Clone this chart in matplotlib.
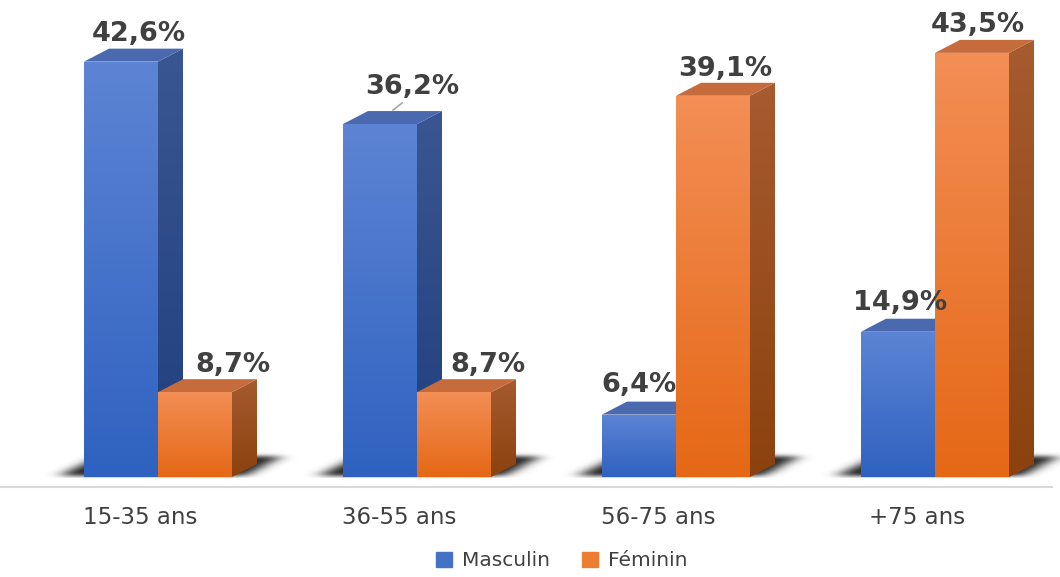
import matplotlib
matplotlib.use("Agg")
import matplotlib.pyplot as plt
from matplotlib.patches import Polygon, Rectangle
from matplotlib.path import Path
import numpy as np

# data
categories = ["15-35 ans", "36-55 ans", "56-75 ans", "+75 ans"]
masculin = [42.6, 36.2, 6.4, 14.9]
feminin = [8.7, 8.7, 39.1, 43.5]
series_names = ["Masculin", "Féminin"]

# pixel -> data scale (group spacing 259 px, 1 % = 9.75 px)
PX_X = 1.0 / 259
PX_Y = 1.0 / 9.75
bar_w = 74 * PX_X
dx = 25 * PX_X
dy = 13 * PX_Y

# label nudges (px), one per bar: masculin then feminin
lab_dx = [[18, 32, 0, 2], [38, 34, 12, 6]]
lab_dy = [[28, 37, 30, 29], [27, 27, 27, 28]]

styles = [
    dict(top="#5d84d4", bot="#2f62c0", side_top="#3a5692", side_bot="#203f7e",
         cap="#4a69ae", legend="#4472c4"),
    dict(top="#f38e55", bot="#e56816", side_top="#a65b30", side_bot="#8c420e",
         cap="#c56b3c", legend="#ed7d31"),
]

fig = plt.figure(figsize=(10.6, 5.77), dpi=100)
ax = fig.add_axes([0, 0, 1, 1])
ax.set_axis_off()


def grad(ax, x0, x1, y0, y1, c_top, c_bot, clip, z):
    ct = np.array(matplotlib.colors.to_rgb(c_top))
    cb = np.array(matplotlib.colors.to_rgb(c_bot))
    t = np.linspace(0, 1, 64)[:, None]
    img = (ct * (1 - t) + cb * t)[:, None, :]
    im = ax.imshow(img, extent=(x0, x1, y0, y1), aspect="auto", origin="upper",
                   zorder=z, interpolation="bilinear")
    im.set_clip_path(clip)


def blur1d(a, sigma, axis):
    r = int(3 * sigma)
    k = np.exp(-0.5 * (np.arange(-r, r + 1) / sigma) ** 2)
    k /= k.sum()
    return np.apply_along_axis(lambda m: np.convolve(m, k, mode="same"), axis, a)


def floor_shadow(ax, xl, xr):
    # soft shadow drawn in pixel units, then mapped to data extent
    w_px = int((xr - xl) / PX_X) + 120
    h_px = 40
    u = np.arange(w_px) - 50.0          # px from bar left
    v = np.arange(h_px)[::-1] - 8.0     # px above baseline
    U, V = np.meshgrid(u, v)
    bw = (xr - xl) / PX_X
    shape = Path([(-26, 0), (bw + 12, 0), (bw + 48, 19), (14, 19)])
    inside = shape.contains_points(np.c_[U.ravel(), V.ravel()]).reshape(U.shape)
    a = inside.astype(float)
    a = blur1d(a, 8, 1)
    a = blur1d(a, 2.0, 0)
    a[V < -1] = 0
    rgba = np.zeros(a.shape + (4,))
    rgba[..., :3] = 0.2
    rgba[..., 3] = np.clip(a * 1.1, 0, 1)
    ax.imshow(rgba, extent=(xl - 50 * PX_X, xl + (w_px - 50) * PX_X,
                            -8 * PX_Y, (h_px - 8) * PX_Y),
              aspect="auto", origin="upper", zorder=1, interpolation="bilinear")


x = np.arange(len(categories))
for i in x:
    floor_shadow(ax, i - bar_w, i + bar_w)

for s, vals in enumerate([masculin, feminin]):
    st = styles[s]
    lefts = x - bar_w + s * bar_w
    for i, (xl, v) in enumerate(zip(lefts, vals)):
        z = 3 + s * 2
        # side face
        side = Polygon([(xl + bar_w, 0), (xl + bar_w + dx, dy),
                        (xl + bar_w + dx, v + dy), (xl + bar_w, v)],
                       closed=True, facecolor="none", edgecolor="none", zorder=z)
        ax.add_patch(side)
        grad(ax, xl + bar_w, xl + bar_w + dx, 0, v + dy, st["side_top"], st["side_bot"], side, z)
        # top face
        cap = Polygon([(xl, v), (xl + bar_w, v), (xl + bar_w + dx, v + dy), (xl + dx, v + dy)],
                      closed=True, facecolor=st["cap"], edgecolor="none", zorder=z)
        ax.add_patch(cap)
        # front face
        b = ax.bar(xl, v, width=bar_w, align="edge", color="none", edgecolor="none",
                   zorder=z + 1)[0]
        grad(ax, xl, xl + bar_w, 0, v, st["top"], st["bot"], b, z + 1)
        # value label
        ax.text(xl + bar_w / 2 + lab_dx[s][i] * PX_X, v + lab_dy[s][i] * PX_Y,
                f"{v:.1f}%".replace(".", ","), ha="center", va="center",
                fontsize=19.5, fontweight="bold", color="#404040", zorder=10)

# leader line for 36,2%
ax.plot([1 - bar_w / 2 + 13 * PX_X, 1 - bar_w / 2 + 22 * PX_X],
        [36.2 + 14 * PX_Y, 36.2 + 21 * PX_Y], color="#a6a6a6", lw=1.2, zorder=9)

# axis line
ax.plot([-0.61, 3.45], [-10 * PX_Y] * 2, color="#d9d9d9", lw=1.5, zorder=2)

for i, c in enumerate(categories):
    ax.text(i - 18 * PX_X, -41 * PX_Y, c, ha="center", va="center",
            fontsize=16.5, color="#404040")

handles = [Rectangle((0, 0), 1, 1, color=st["legend"]) for st in styles]
ax.legend(handles, series_names, loc="lower center", bbox_to_anchor=(0.53, -0.02),
          ncol=2, frameon=False, fontsize=14.5, handlelength=0.8, handleheight=0.8,
          columnspacing=1.6, handletextpad=0.5, labelcolor="#404040")

ax.set_xlim(-158 * PX_X, (1060 - 158) * PX_X)
ax.set_ylim(-(577 - 477) * PX_Y, 477 * PX_Y)

fig.savefig("out.png", dpi=100)
